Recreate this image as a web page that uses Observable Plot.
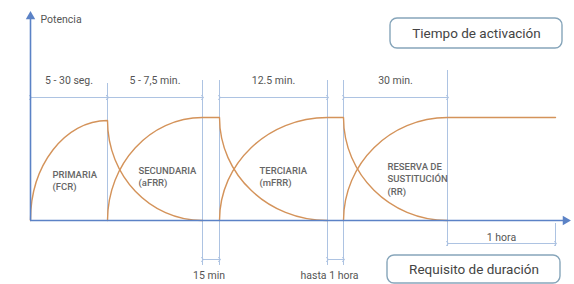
<!DOCTYPE html>
<html><head><meta charset="utf-8">
<script src="https://cdn.jsdelivr.net/npm/d3@7"></script>
<script src="https://cdn.jsdelivr.net/npm/@observablehq/plot@0.6"></script>
<style>body{margin:0;background:#fff} svg{display:block}</style>
</head><body><div id="chart"></div>
<script>
// Stage boundaries along the time axis (arbitrary units)
const stageTimes = [0, 77, 172, 189, 297, 313, 417, 525];

// Activation / deactivation curves (power in % of nominal)
const curveSeries = ["FCR","FCR","FCR", "aFRR","aFRR","aFRR","aFRR", "mFRR","mFRR","mFRR","mFRR", "RR","RR","RR"];
const curveT      = [0, 77, 172,        77, 172, 189, 297,          189, 297, 313, 417,         313, 417, 525];
const curveP      = [0, 100, 0,         0, 103, 103, 0,             0, 103, 103, 0,             0, 103, 103];

// Activation time spans (top dimension lines)
const actStart = [0, 77, 189, 313];
const actEnd   = [77, 172, 297, 417];
const actLabel = ["5 - 30 seg.", "5 - 7,5 min.", "12.5 min.", "30 min."];

// Duration spans (bottom dimension lines)
const durStart = [172, 297, 417];
const durEnd   = [189, 313, 525];
const durLevel = [-39, -39, -23];
const durLabel = ["15 min", "hasta 1 hora", "1 hora"];
const durLabelLevel = [-55, -55, -17];
const durLabelShift = [-2, -6, 0];

// Vertical guide lines
const guideT   = [77, 172, 189, 297, 313, 417, 525];
const guideTop = [137, 140, 140, 140, 140, 150, -3];
const guideBot = [0, -45, -45, -45, -45, -26, -26];

// Reserve names
const reserveLabel = ["PRIMARIA\n(FCR)", "SECUNDARIA\n(aFRR)", "TERCIARIA\n(mFRR)", "RESERVA DE\nSUSTITUCIÓN\n(RR)"];
const reserveT = [22, 108, 229, 357];
const reserveP = [52, 56, 56, 60];

// Boxes
const boxLabel = ["Tiempo de activación", "Requisito de duración"];
const boxT1 = [360, 357];
const boxT2 = [532, 530];
const boxP1 = [202, -35];
const boxP2 = [172, -63];

const axisLabel = "Potencia";

const curves = curveT.map((t, i) => ({s: curveSeries[i], t, p: curveP[i]}));
const acts = actStart.map((a, i) => ({a, b: actEnd[i], label: actLabel[i]}));
const durs = durStart.map((a, i) => ({a, b: durEnd[i], y: durLevel[i], label: durLabel[i], ly: durLabelLevel[i], dx: durLabelShift[i]}));
const guides = guideT.map((t, i) => ({t, top: guideTop[i], bot: guideBot[i]}));
const reserves = reserveLabel.map((label, i) => ({label, t: reserveT[i], p: reserveP[i]}));
const boxes = boxLabel.map((label, i) => ({label, x1: boxT1[i], x2: boxT2[i], y1: boxP1[i], y2: boxP2[i]}));

// Quarter-ellipse ramp curve: vertical tangent at start, horizontal at end
function Ramp(context) { this._context = context; }
Ramp.prototype = {
  areaStart() { this._line = 0; },
  areaEnd() { this._line = NaN; },
  lineStart() { this._point = 0; },
  lineEnd() { if (this._line || (this._line !== 0 && this._point === 1)) this._context.closePath(); this._line = 1 - this._line; },
  point(x, y) {
    x = +x; y = +y;
    if (this._point === 0) { this._point = 1; this._line ? this._context.lineTo(x, y) : this._context.moveTo(x, y); }
    else {
      this._point = 2;
      const k = 0.5523;
      this._context.bezierCurveTo(this._x0, this._y0 + k * (y - this._y0), x - k * (x - this._x0), y, x, y);
    }
    this._x0 = x; this._y0 = y;
  }
};
const ramp = (ctx) => new Ramp(ctx);

const font = "Roboto, 'DejaVu Sans Condensed', sans-serif";
const axisColor = "#5b82c6";
const dimColor = "#adc3e2";
const curveColor = "#d4935a";
const textColor = "#555";

const chart = Plot.plot({
  width: 574, height: 284, margin: 0,
  style: {fontFamily: font, background: "white"},
  x: {domain: [-30, 544], axis: null},
  y: {domain: [-64, 220], axis: null},
  marks: [
    // guides
    Plot.ruleX(guides, {x: "t", y1: "bot", y2: "top", stroke: dimColor, strokeWidth: 1}),
    // top dimension arrows
    Plot.link(acts, {x1: "a", x2: "b", y1: 123, y2: 123, stroke: dimColor, strokeWidth: 1, markerStart: "arrow", markerEnd: "arrow"}),
    Plot.text(acts, {x: d => (d.a + d.b) / 2, y: 140, text: "label", fill: textColor, fontSize: 10.5, letterSpacing: -0.3}),
    // bottom dimension arrows
    Plot.link(durs, {x1: "a", x2: "b", y1: "y", y2: "y", stroke: dimColor, strokeWidth: 1, markerStart: "arrow", markerEnd: "arrow"}),
    Plot.text(durs, {x: d => (d.a + d.b) / 2 + d.dx, y: "ly", text: "label", fill: textColor, fontSize: 10.5, letterSpacing: -0.3}),
    // curves
    Plot.line(curves, {x: "t", y: "p", z: "s", stroke: curveColor, strokeWidth: 1.4, curve: ramp}),
    // axes
    Plot.ruleX([0], {y1: 0, y2: 204, stroke: axisColor, strokeWidth: 1.6}),
    Plot.dot([0], {x: 0, y: 204, symbol: "triangle", r: 3.5, fill: axisColor, stroke: null}),
    Plot.ruleY([0], {x1: 0, x2: 534, stroke: axisColor, strokeWidth: 1.6}),
    Plot.dot([0], {x: 535, y: 0, symbol: "triangle", rotate: 90, r: 3.5, fill: axisColor, stroke: null}),
    Plot.text([axisLabel], {x: 10, y: 201, text: d => d, textAnchor: "start", fill: textColor, fontSize: 10.5, letterSpacing: -0.2}),
    // reserve labels
    Plot.text(reserves, {x: "t", y: "p", text: "label", textAnchor: "start", lineAnchor: "top", lineHeight: 1.35, fill: "#666", fontSize: 9.5, fontWeight: 500, letterSpacing: -0.3}),
    // boxes
    Plot.rect(boxes, {x1: "x1", x2: "x2", y1: "y1", y2: "y2", rx: 7, fill: "white", stroke: "#86a5ba", strokeWidth: 1.4}),
    Plot.text(boxes, {x: d => (d.x1 + d.x2) / 2, y: d => (d.y1 + d.y2) / 2, text: "label", fill: "#444", fontSize: 13.5, letterSpacing: -0.7})
  ]
});
document.getElementById("chart").append(chart);
</script>
</body></html>
